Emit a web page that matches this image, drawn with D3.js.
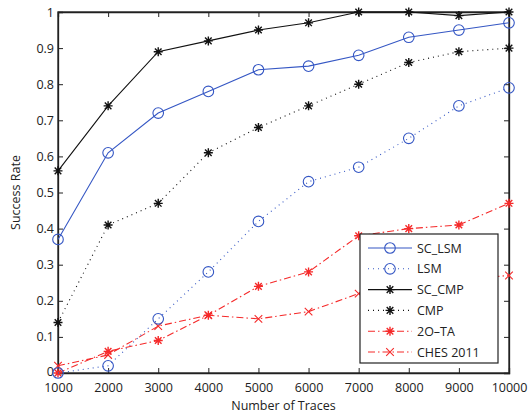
<!DOCTYPE html>
<html>
<head>
<meta charset="utf-8">
<script src="https://cdn.jsdelivr.net/npm/d3@7"></script>
<style>
  body { margin: 0; background: #fff; }
  text { font-family: "Open Sans", "DejaVu Sans", sans-serif; }
</style>
</head>
<body>
<svg id="chart" width="531" height="414"></svg>
<script>
// data
var traces = [1000, 2000, 3000, 4000, 5000, 6000, 7000, 8000, 9000, 10000]
var scLsm  = [0.37, 0.61, 0.72, 0.78, 0.84, 0.85, 0.88, 0.93, 0.95, 0.97]
var lsm    = [0, 0.02, 0.15, 0.28, 0.42, 0.53, 0.57, 0.65, 0.74, 0.79]
var scCmp  = [0.56, 0.74, 0.89, 0.92, 0.95, 0.97, 1, 1, 0.99, 1]
var cmp    = [0.14, 0.41, 0.47, 0.61, 0.68, 0.74, 0.80, 0.86, 0.89, 0.90]
var oTa    = [0, 0.06, 0.09, 0.16, 0.24, 0.28, 0.38, 0.40, 0.41, 0.47]
var ches   = [0.02, 0.05, 0.13, 0.16, 0.15, 0.17, 0.22, 0.24, 0.26, 0.27]
var yTicks = [0, 0.1, 0.2, 0.3, 0.4, 0.5, 0.6, 0.7, 0.8, 0.9, 1]

var blue = "#3557c4", red = "#f52a2a", black = "#111"

var series = [
  {name: "SC_LSM",    values: scLsm, color: blue,  dash: null,        marker: "circle"},
  {name: "LSM",       values: lsm,   color: blue,  dash: "1,4",       marker: "circle"},
  {name: "SC_CMP",    values: scCmp, color: black, dash: null,        marker: "star"},
  {name: "CMP",       values: cmp,   color: black, dash: "1,4",       marker: "star"},
  {name: "2O\u2013TA", values: oTa,  color: red,   dash: "7,3,1.5,3", marker: "star"},
  {name: "CHES 2011", values: ches,  color: red,   dash: "7,3,1.5,3", marker: "x"}
]

var margin = {top: 12, right: 22, bottom: 41, left: 58}
var width = 531 - margin.left - margin.right,
    height = 414 - margin.top - margin.bottom

var svg = d3.select("#chart")
  .append("g")
  .attr("transform", "translate(" + margin.left + "," + margin.top + ")")

var x = d3.scaleLinear().domain([1000, 10000]).range([0, width])
var y = d3.scaleLinear().domain([0, 1]).range([height, 0])

// axes, matlab style ticks pointing inward
var xAxis = svg.append("g")
  .attr("transform", "translate(0," + height + ")")
  .call(d3.axisBottom(x).tickValues(traces).tickSize(-5).tickPadding(10).tickFormat(d3.format("d")))
var yAxis = svg.append("g")
  .call(d3.axisLeft(y).tickValues(yTicks).tickSize(-5).tickPadding(4).tickFormat(d3.format("")))
svg.append("g")
  .call(d3.axisTop(x).tickValues(traces).tickSize(-5).tickFormat(""))
svg.append("g")
  .attr("transform", "translate(" + width + ",0)")
  .call(d3.axisRight(y).tickValues(yTicks).tickSize(-5).tickFormat(""))

svg.selectAll(".domain").attr("stroke", "#222").attr("stroke-width", 1.3)
svg.selectAll(".tick line").attr("stroke", "#222")
svg.selectAll(".tick text").style("font-size", "12.5px").attr("fill", "#222")
// nudge the 0 label up a little so it clears the 1000 label
yAxis.selectAll(".tick text").filter(function(d) { return d == 0 }).attr("dy", "0.2em")

svg.append("rect")
  .attr("width", width).attr("height", height)
  .attr("fill", "none").attr("stroke", "#222").attr("stroke-width", 1.3)

// axis titles
svg.append("text")
  .attr("x", width / 2).attr("y", height + 37)
  .attr("text-anchor", "middle")
  .style("font-size", "12.5px").attr("fill", "#222")
  .text("Number of Traces")
svg.append("text")
  .attr("transform", "rotate(-90)")
  .attr("x", -height / 2).attr("y", -38)
  .attr("text-anchor", "middle")
  .style("font-size", "12.5px").attr("fill", "#222")
  .text("Success Rate")

function drawMarker(g, type, color) {
  if (type == "circle") {
    g.append("circle").attr("r", 5.3).attr("fill", "none").attr("stroke", color).attr("stroke-width", 1.1)
  } else if (type == "star") {
    g.append("path").attr("d", "M-4.5,0H4.5M0,-4.5V4.5M-3.3,-3.3L3.3,3.3M-3.3,3.3L3.3,-3.3")
      .attr("stroke", color).attr("stroke-width", 1.4)
  } else {
    g.append("path").attr("d", "M-3.8,-3.8L3.8,3.8M-3.8,3.8L3.8,-3.8")
      .attr("stroke", color).attr("stroke-width", 1.1)
  }
}

var line = d3.line()
  .x(function(d, i) { return x(traces[i]) })
  .y(function(d) { return y(d) })

// draw in reverse so the solid lines sit on top
series.slice().reverse().forEach(function(s) {
  svg.append("path")
    .datum(s.values)
    .attr("d", line)
    .attr("fill", "none")
    .attr("stroke", s.color)
    .attr("stroke-width", 1.1)
    .attr("stroke-dasharray", s.dash)

  svg.selectAll(null)
    .data(s.values)
    .enter().append("g")
    .attr("transform", function(d, i) { return "translate(" + x(traces[i]) + "," + y(d) + ")" })
    .each(function() { drawMarker(d3.select(this), s.marker, s.color) })
})

// legend
var legend = svg.append("g")
  .attr("transform", "translate(" + (360 - margin.left) + "," + (234 - margin.top) + ")")
legend.append("rect")
  .attr("width", 138).attr("height", 129)
  .attr("fill", "#fff").attr("stroke", "#222").attr("stroke-width", 1.2)

var item = legend.selectAll(".item")
  .data(series)
  .enter().append("g")
  .attr("class", "item")
  .attr("transform", function(d, i) { return "translate(0," + (14 + i * 20.8) + ")" })

item.append("line")
  .attr("x1", 8).attr("x2", 52)
  .attr("stroke", function(d) { return d.color })
  .attr("stroke-width", 1.1)
  .attr("stroke-dasharray", function(d) { return d.dash })
item.append("g")
  .attr("transform", "translate(30,0)")
  .each(function(d) { drawMarker(d3.select(this), d.marker, d.color) })
item.append("text")
  .attr("x", 57).attr("dy", "0.36em")
  .style("font-size", "12.5px").attr("fill", "#222")
  .text(function(d) { return d.name })
</script>
</body>
</html>
